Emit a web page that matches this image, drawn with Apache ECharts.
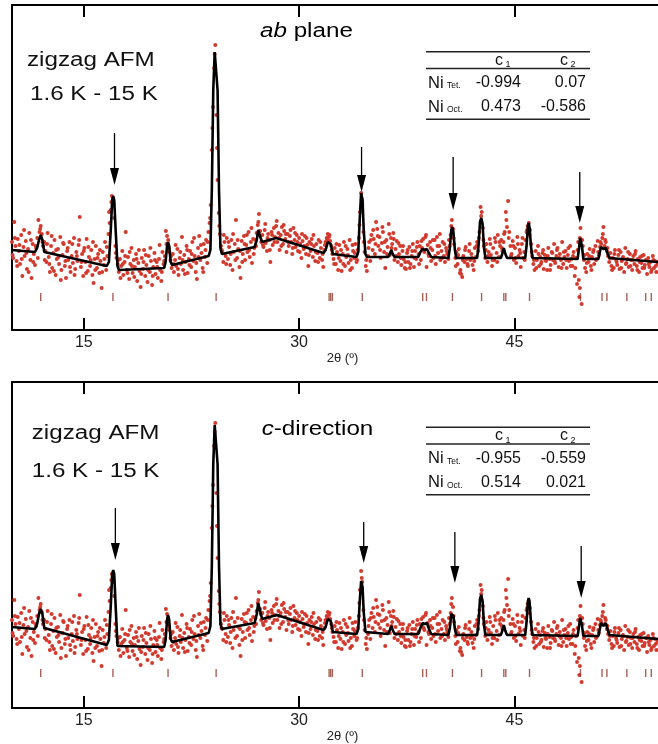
<!DOCTYPE html>
<html><head><meta charset="utf-8">
<script src="https://cdn.jsdelivr.net/npm/echarts@6/dist/echarts.min.js"></script>
<style>html,body{margin:0;padding:0;background:#fff;overflow:hidden}#c{width:658px;height:744px}</style>
</head><body><div id="c"></div>
<script>
// ---- data (2θ in degrees, intensity in arbitrary units) ----
const observed = [
[10.00,88],[10.08,72],[10.16,108],[10.24,84],[10.32,69],[10.40,91],[10.48,79],[10.56,66],[10.64,95],[10.72,54],[10.80,83],[10.88,74],[10.96,89],[11.04,61],[11.12,81],[11.20,97],[11.28,70],[11.36,52],[11.44,86],[11.52,76],[11.60,65],[11.68,82],[11.76,92],[11.84,110],[11.92,98],[12.00,104],[12.08,96],[12.16,84],[12.24,88],
[12.32,79],[12.40,68],[12.48,97],[12.56,73],[12.64,58],[12.72,84],[12.80,62],[12.88,77],[12.96,90],[13.04,55],[13.12,71],[13.20,81],[13.28,66],[13.36,93],[13.44,60],[13.52,75],[13.60,86],[13.68,64],[13.76,52],[13.84,79],[13.92,70],[14.00,88],[14.08,58],[14.16,74],[14.24,67],[14.32,92],[14.40,61],[14.48,78],[14.56,69],[14.64,85],[14.72,113],[14.80,63],[14.88,76],[14.96,54],[15.04,82],[15.12,68],[15.20,91],[15.28,59],[15.36,73],[15.44,64],[15.52,80],[15.60,55],[15.68,47],[15.76,71],[15.84,84],[15.92,62],[16.00,76],[16.08,57],[16.16,69],[16.24,42],[16.32,78],[16.40,65],[16.48,88],[16.56,60],
[16.64,74],[16.72,96],[16.80,107],[16.88,120],[16.96,134],[17.04,131],[17.12,112],[17.20,84],[17.28,72],[17.36,66],
[17.44,58],[17.52,71],[17.60,64],[17.68,79],[17.76,55],[17.84,68],[17.92,98],[18.00,60],[18.08,73],[18.16,51],[18.24,66],[18.32,82],[18.40,57],[18.48,70],[18.56,63],[18.64,76],[18.72,49],[18.80,67],[18.88,59],[18.96,43],[19.04,72],[19.12,61],[19.20,80],[19.28,54],[19.36,65],[19.44,48],[19.52,74],[19.60,58],[19.68,69],[19.76,45],[19.84,63],[19.92,77],[20.00,56],[20.08,68],[20.16,52],[20.24,71],[20.32,60],[20.40,49],[20.48,78],[20.56,66],
[20.64,74],[20.72,99],[20.80,94],[20.88,90],[20.96,78],[21.04,70],
[21.12,62],[21.20,76],[21.28,58],[21.36,70],[21.44,64],[21.52,81],[21.60,55],[21.68,72],[21.76,66],[21.84,93],[21.92,60],[22.00,75],[22.08,68],[22.16,84],[22.24,57],[22.32,71],[22.40,79],[22.48,63],[22.56,88],[22.64,69],[22.72,74],[22.80,58],[22.88,51],[22.96,82],[23.04,94],[23.12,70],[23.20,77],[23.28,62],[23.36,86],[23.44,73],[23.52,90],[23.60,67],[23.68,98],
[23.76,107],[23.84,125],[23.92,180],[24.00,223],[24.08,262],[24.16,285],[24.24,215],[24.32,150],[24.40,117],[24.48,96],[24.56,84],
[24.64,79],[24.72,68],[24.80,88],[24.88,74],[24.96,92],[25.04,71],[25.12,83],[25.20,65],[25.28,90],[25.36,60],[25.44,78],[25.52,86],[25.60,110],[25.68,72],[25.76,81],[25.84,63],[25.92,52],[26.00,89],[26.08,76],[26.16,94],[26.24,70],[26.32,85],[26.40,78],[26.48,98],[26.56,73],[26.64,88],[26.72,67],[26.80,91],[26.88,82],
[26.96,90],[27.04,97],[27.12,105],[27.20,116],[27.28,99],[27.36,88],
[27.44,95],[27.52,83],[27.60,100],[27.68,87],[27.76,79],[27.84,96],[27.92,90],[28.00,68],[28.08,98],[28.16,85],[28.24,102],[28.32,93],[28.40,104],[28.48,88],[28.56,97],[28.64,80],[28.72,95],[28.80,103],[28.88,86],[28.96,99],[29.04,91],[29.12,78],[29.20,96],[29.28,84],[29.36,94],[29.44,88],[29.52,76],[29.60,102],[29.68,90],[29.76,83],[29.84,95],[29.92,79],[30.00,92],[30.08,86],[30.16,72],[30.24,89],[30.32,81],[30.40,94],[30.48,76],[30.56,85],[30.64,64],[30.72,88],[30.80,79],[30.88,91],[30.96,73],[31.04,84],[31.12,69],[31.20,86],[31.28,77],[31.36,90],[31.44,72],[31.52,82],[31.60,70],[31.68,63],
[31.76,80],[31.84,88],[31.92,92],[32.00,96],[32.08,93],[32.16,89],[32.24,84],[32.32,76],
[32.40,71],[32.48,82],[32.56,66],[32.64,78],[32.72,60],[32.80,85],[32.88,69],[32.96,59],[33.04,76],[33.12,88],[33.20,64],[33.28,73],[33.36,81],[33.44,67],[33.52,90],[33.60,70],[33.68,62],[33.76,79],[33.84,72],[33.92,86],[34.00,68],[34.08,80],
[34.16,92],[34.24,118],[34.32,137],[34.40,126],[34.48,98],[34.56,78],[34.64,64],[34.72,59],
[34.80,74],[34.88,88],[34.96,69],[35.04,95],[35.12,80],[35.20,91],[35.28,76],[35.36,108],[35.44,101],[35.52,84],[35.60,93],[35.68,72],[35.76,87],[35.84,98],[35.92,78],[36.00,62],[36.08,90],[36.16,83],[36.24,106],[36.32,75],[36.40,92],[36.48,86],[36.56,97],[36.64,70],[36.72,81],[36.80,89],[36.88,68],[36.96,76],[37.04,84],[37.12,65],[37.20,79],[37.28,71],[37.36,62],[37.44,61],[37.52,77],[37.60,68],[37.68,83],[37.76,66],[37.84,74],[37.92,86],[38.00,63],[38.08,79],[38.16,71],[38.24,88],[38.32,76],[38.40,84],[38.48,70],[38.56,82],[38.64,91],[38.72,78],[38.80,93],[38.88,63],[38.96,85],[39.04,74],[39.12,88],[39.20,69],[39.28,80],[39.36,72],[39.44,90],[39.52,66],[39.60,93],[39.68,77],[39.76,84],[39.84,70],[39.92,79],[40.00,88],[40.08,74],[40.16,68],[40.24,82],[40.32,76],[40.40,71],[40.48,84],
[40.56,95],[40.64,110],[40.72,101],[40.80,86],[40.88,72],
[40.96,78],[41.04,66],[41.12,81],[41.20,57],[41.28,56],[41.36,53],[41.44,74],[41.52,68],[41.60,83],[41.68,71],[41.76,64],[41.84,79],[41.92,70],[42.00,76],[42.08,65],[42.16,60],[42.24,82],[42.32,73],[42.40,88],[42.48,79],
[42.56,98],[42.64,123],[42.72,118],[42.80,102],[42.88,84],
[42.96,72],[43.04,86],[43.12,68],[43.20,78],[43.28,91],[43.36,75],[43.44,64],[43.52,82],[43.60,70],[43.68,88],[43.76,77],[43.84,95],[43.92,73],[44.00,84],[44.08,90],[44.16,79],
[44.24,88],[44.32,98],[44.40,118],[44.48,103],[44.56,129],[44.64,98],[44.72,84],
[44.80,76],[44.88,89],[44.96,70],[45.04,82],[45.12,67],[45.20,93],[45.28,74],[45.36,80],[45.44,63],[45.52,86],[45.60,72],[45.68,78],[45.76,90],
[45.84,98],[45.92,104],[46.00,107],[46.08,100],[46.16,86],
[46.24,74],[46.32,66],[46.40,60],[46.48,79],[46.56,70],[46.64,84],[46.72,64],[46.80,73],[46.88,68],[46.96,77],[47.04,61],[47.12,75],[47.20,69],[47.28,60],[47.36,82],[47.44,71],[47.52,65],[47.60,78],[47.68,70],[47.76,86],[47.84,67],[47.92,74],[48.00,82],[48.08,63],[48.16,76],[48.24,70],[48.32,88],[48.40,66],[48.48,73],[48.56,79],[48.64,62],[48.72,75],[48.80,69],[48.88,84],[48.96,71],[49.04,64],[49.12,78],[49.20,54],[49.28,72],[49.36,46],
[49.44,88],[49.48,50],[49.52,33],[49.56,92],[49.60,102],[49.68,26],[49.76,84],
[49.84,70],[49.92,62],[50.00,58],[50.08,76],[50.16,68],[50.24,81],[50.32,64],[50.40,73],[50.48,78],[50.56,66],[50.64,84],[50.72,71],[50.80,89],[50.88,75],
[50.96,83],[51.04,86],[51.12,92],[51.20,103],[51.28,84],[51.36,88],[51.44,79],[51.52,74],
[51.60,68],[51.68,77],[51.76,64],[51.84,72],[51.92,62],[52.00,80],[52.08,70],[52.16,65],[52.24,75],[52.32,61],[52.40,78],[52.48,69],[52.56,73],[52.64,58],[52.72,82],[52.80,67],[52.88,71],[52.96,63],[53.04,76],[53.12,70],[53.20,60],[53.28,74],[53.36,66],[53.44,79],[53.52,64],[53.60,71],[53.68,58],[53.76,73],[53.84,67],[53.92,62],[54.00,75],[54.08,65],[54.16,70],[54.24,56],[54.32,72],[54.40,63],[54.48,68],[54.56,60],[54.64,74],[54.72,62],[54.80,69],[54.88,58],[54.96,66],[55.04,61],
[10.04,75],[10.20,92],[10.36,64],[10.52,85],[10.68,71],[10.84,100],[11.00,77],[11.16,58],[11.32,90],[11.48,68],[11.64,84],[11.80,72],[11.96,101],[12.12,88],[12.28,70],[12.44,86],[12.60,66],[12.76,94],[12.92,59],[13.08,80],[13.24,73],[13.40,50],[13.56,87],[13.72,69],[13.88,82],[14.04,63],[14.20,86],[14.36,55],[14.52,74],[14.68,90],[14.84,68],[15.00,79],[15.16,57],[15.32,83],[15.48,70],[15.64,88],[15.80,60],[15.96,72],[16.12,80],[16.28,58],[16.44,71],[16.60,83],[16.76,118],[16.92,128],[17.08,126],[17.24,77],[17.40,70],[17.56,52],[17.72,66],[17.88,74],[18.04,57],[18.20,78],[18.36,64],[18.52,53],[18.68,71],[18.84,80],[19.00,56],[19.16,68],[19.32,75],[19.48,60],[19.64,82],[19.80,54],[19.96,70],[20.12,63],[20.28,85],[20.44,58],[20.60,69],[20.76,86],[20.92,82],[21.08,74],[21.24,66],[21.40,85],[21.56,61],[21.72,78],[21.88,70],[22.04,56],[22.20,80],[22.36,65],[22.52,76],[22.68,92],[22.84,67],[23.00,73],[23.16,85],[23.32,58],[23.48,80],[23.64,88],[23.80,112],[23.96,202],[24.12,276],[24.28,182],[24.44,104],[24.60,80],[24.76,95],[24.92,66],[25.08,88],[25.24,76],[25.40,96],[25.56,70],[25.72,90],[25.88,79],[26.04,68],[26.20,86],[26.36,95],[26.52,80],[26.68,102],[26.84,76],[27.00,84],[27.16,108],[27.32,94],[27.48,85],[27.64,106],[27.80,92],[27.96,80],[28.12,95],[28.28,88],[28.44,109],[28.60,92],[28.76,84],[28.92,105],[29.08,96],[29.24,88],[29.40,100],[29.56,82],[29.72,97],[29.88,88],[30.04,78],[30.20,96],[30.36,84],[30.52,92],[30.68,75],[30.84,86],[31.00,95],[31.16,78],[31.32,68],[31.48,88],[31.64,76],[31.80,85],[31.96,90],[32.12,95],[32.28,80],[32.44,66],[32.60,86],[32.76,72],[32.92,80],[33.08,66],[33.24,84],[33.40,75],[33.56,60],[33.72,85],[33.88,77],[34.04,70],[34.20,105],[34.36,130],[34.52,88],[34.68,70],[34.84,82],[35.00,90],[35.16,100],[35.32,86],[35.48,94],[35.64,80],[35.80,103],[35.96,88],[36.12,76],[36.28,96],[36.44,82],[36.60,91],[36.76,74],[36.92,87],[37.08,72],[37.24,84],[37.40,68],[37.56,80],[37.72,62],[37.88,79],[38.04,72],[38.20,83],[38.36,66],[38.52,89],[38.68,80],[38.84,95],[39.00,76],[39.16,82],[39.32,90],[39.48,74],[39.64,84],[39.80,96],[39.96,72],[40.12,86],[40.28,79],[40.44,90],[40.60,104],[40.76,92],[40.92,64],[41.08,75],[41.24,60],[41.40,70],[41.56,80],[41.72,66],[41.88,86],[42.04,72],[42.20,69],[42.36,84],[42.52,92],[42.68,114],[42.84,90],[43.00,80],[43.16,74],[43.32,86],[43.48,70],[43.64,92],[43.80,68],[43.96,88],[44.12,82],[44.28,96],[44.44,110],[44.60,92],[44.76,74],[44.92,84],[45.08,72],[45.24,86],[45.40,77],[45.56,92],[45.72,70],[45.88,100],[46.04,95],[46.20,78],[46.36,70],[46.52,62],[46.68,76],[46.84,66],[47.00,80],[47.16,70],[47.32,74],[47.48,60],[47.64,77],[47.80,69],[47.96,80],[48.12,72],[48.28,62],[48.44,78],[48.60,70],[48.76,82],[48.92,64],[49.08,74],[49.24,62],[49.40,80],[49.56,42],[49.72,90],[49.88,75],[50.04,67],[50.20,74],[50.36,60],[50.52,80],[50.68,70],[50.84,78],[51.00,88],[51.16,96],[51.32,90],[51.48,82],[51.64,72],[51.80,60],[51.96,76],[52.12,68],[52.28,80],[52.44,62],[52.60,72],[52.76,66],[52.92,78],[53.08,64],[53.24,70],[53.40,76],[53.56,60],[53.72,68],[53.88,74],[54.04,62],[54.20,70],[54.36,66],[54.52,58],[54.68,70],[54.84,64],[55.00,68]
];

const fitAb = [
[10.0,80],[11.6,78],[11.75,82],[11.88,90],[12.0,95],[12.12,90],[12.25,78],[12.35,76],
[16.6,64],[16.75,68],[16.88,100],[16.98,130],[17.05,134],[17.12,130],[17.22,100],[17.35,64],[17.45,60],
[20.6,62],[20.7,68],[20.8,84],[20.87,88],[20.95,84],[21.05,68],[21.15,65],
[23.7,74],[23.82,80],[23.92,140],[24.02,240],[24.12,278],[24.17,280],[24.22,278],[24.32,240],[24.42,140],[24.52,82],[24.62,76],
[26.9,83],[27.05,90],[27.15,100],[27.22,101],[27.32,92],[27.42,88],
[28.4,92],[31.7,77],[31.85,80],[32.0,88],[32.1,89],[32.2,86],[32.35,76],[32.45,74],
[34.0,73],[34.12,78],[34.22,110],[34.32,137],[34.35,138],[34.42,130],[34.5,100],[34.62,76],[34.72,73],
[36.2,73],[36.32,76],[36.42,80],[36.52,76],[36.65,73],
[38.3,73],[38.45,78],[38.6,81],[38.75,80],[38.9,81],[39.05,77],[39.2,73],
[40.4,72],[40.5,82],[40.6,100],[40.67,103],[40.75,98],[40.85,80],[40.95,72],
[42.4,72],[42.5,84],[42.6,108],[42.69,112],[42.78,106],[42.88,82],[42.98,72],
[44.05,72],[44.15,76],[44.26,82],[44.37,76],[44.48,72],
[45.75,72],[45.85,85],[45.94,104],[45.99,107],[46.06,102],[46.15,84],[46.25,72],
[49.4,71],[49.5,82],[49.58,92],[49.62,93],[49.7,84],[49.8,71],
[50.85,71],[50.95,78],[51.03,83],[51.2,81],[51.37,82],[51.5,76],[51.62,72],
[55.0,68]
];

const fitC = [
[10.0,81],[11.6,79],[11.75,84],[11.88,94],[12.0,99],[12.12,94],[12.25,80],[12.35,79],
[16.6,63],[16.75,68],[16.88,102],[16.98,134],[17.05,138],[17.12,134],[17.22,102],[17.35,62],[17.45,60],
[20.6,61],[20.7,68],[20.8,88],[20.87,93],[20.95,88],[21.05,69],[21.15,66],
[23.7,75],[23.82,82],[23.92,142],[24.02,244],[24.12,283],[24.17,285],[24.22,283],[24.32,244],[24.42,142],[24.52,84],[24.62,79],
[26.9,85],[27.05,94],[27.15,105],[27.22,106],[27.32,95],[27.42,89],
[28.45,93],[31.7,78],[31.85,81],[32.0,89],[32.1,90],[32.2,87],[32.35,76],[32.45,74],
[34.0,74],[34.12,79],[34.22,106],[34.32,127],[34.35,128],[34.42,121],[34.5,96],[34.62,76],[34.72,74],
[36.2,74],[36.32,78],[36.42,82],[36.52,78],[36.65,74],
[38.3,74],[38.45,80],[38.6,85],[38.75,84],[38.9,85],[39.05,79],[39.2,74],
[40.4,73],[40.5,80],[40.6,94],[40.67,96],[40.75,92],[40.85,79],[40.95,73],
[42.4,73],[42.5,85],[42.6,109],[42.69,113],[42.78,107],[42.88,83],[42.98,73],
[44.05,73],[44.15,77],[44.26,83],[44.37,77],[44.48,73],
[45.75,73],[45.85,87],[45.94,107],[45.99,110],[46.06,105],[46.15,86],[46.25,73],
[49.4,72],[49.5,82],[49.58,90],[49.62,91],[49.7,83],[49.8,72],
[50.85,72],[50.95,79],[51.03,85],[51.2,82],[51.37,85],[51.5,78],[51.62,73],
[55.0,69]
];

const braggPositions = [12.0,17.03,20.87,24.22,32.09,32.2,32.32,34.4,38.61,38.87,40.68,42.71,44.26,44.4,46.05,49.6,51.1,51.44,52.83,54.14,54.53];
const xTickValues = [15, 30, 45];
const magneticPeaksAb = [17.14, 34.35, 40.73, 49.55];
const magneticPeaksC = [17.2, 34.5, 40.85, 49.65];
const tableHeader = ['c', 'c'];
const tableHeaderSub = ['1', '2'];
const tableRowNames = ['Tet.', 'Oct.'];
const coeffAb = [['-0.994','0.07'],['0.473','-0.586']];
const coeffC = [['-0.955','-0.559'],['0.514','0.021']];
const panelTitles = ['ab', 'c'];
const panelTitleRest = [' plane', '-direction'];

// ---- layout / style ----
const FONT = '"Liberation Sans", Arial, sans-serif';
const DOT = '#d23a2e';
const BRAGG = '#8e3b2e';
const arrowYAb = [[197,145],[183,138],[173,120],[158,107]];
const arrowYC  = [[200,148],[186,145],[176,125],[162,110]];

function xAx(grid, pos){
  return {
    type:'value', gridIndex:grid, position:pos, min:10, max:55,
    splitLine:{show:false},
    axisLine:{lineStyle:{color:'#000', width:2}},
    axisTick:{inside:true, length:12, lineStyle:{color:'#000', width:2}, customValues:xTickValues},
    axisLabel: pos==='bottom'
      ? {customValues:xTickValues, fontSize:16, margin:5, color:'#222', fontFamily:FONT}
      : {show:false},
    name: pos==='bottom' ? '2θ (º)' : '',
    nameLocation:'middle', nameGap:19,
    nameTextStyle:{fontSize:13, color:'#222', fontFamily:FONT, padding:[0,0,0,15]}
  };
}
function yAx(grid, max){
  return {type:'value', gridIndex:grid, min:0, max:max,
    axisLine:{show:true, lineStyle:{color:'#000', width:2}},
    axisTick:{show:false}, axisLabel:{show:false}, splitLine:{show:false}};
}
function arrowSeries(xi, peaks, ys){
  return {
    type:'custom', xAxisIndex:xi, yAxisIndex:xi, z:5, silent:true,
    data: peaks.map((p,i)=>[p, ys[i][0], ys[i][1]]),
    encode:{x:0, y:[1,2]},
    renderItem(params, api){
      const p0 = api.coord([api.value(0), api.value(1)]);
      const p1 = api.coord([api.value(0), api.value(2)]);
      const hl = 17, hw = 9;
      return {type:'group', children:[
        {type:'line', shape:{x1:p0[0], y1:p0[1], x2:p1[0], y2:p1[1]-hl+2}, style:{stroke:'#000', lineWidth:1.3}},
        {type:'polygon', shape:{points:[[p1[0]-hw/2,p1[1]-hl],[p1[0]+hw/2,p1[1]-hl],[p1[0],p1[1]]]}, style:{fill:'#000'}}
      ]};
    }
  };
}
function panelSeries(xi, fit, peaks, ys, braggY){
  return [
    {type:'scatter', xAxisIndex:xi, yAxisIndex:xi, data:observed, symbol:'circle', symbolSize:4,
      itemStyle:{color:DOT, opacity:1}, z:2, silent:true},
    {type:'scatter', xAxisIndex:xi, yAxisIndex:xi, data:braggPositions.map(v=>[v,braggY]), symbol:'rect',
      symbolSize:[1.4,8], itemStyle:{color:BRAGG}, z:2, silent:true},
    {type:'line', xAxisIndex:xi, yAxisIndex:xi, data:fit, showSymbol:false, symbol:'none',
      lineStyle:{color:'#000', width:2.6}, z:4, silent:true},
    arrowSeries(xi, peaks, ys)
  ];
}
function txt(x, y, text, size, opt){
  return Object.assign({type:'text', x:x, y:y, silent:true,
    style:{text:text, fontSize:size, fontFamily:FONT, fill:'#111', verticalAlign:'middle', align:'left'}}, opt||{});
}
function tableGraphics(oy, vals){
  const g = [];
  const line = (y)=>({type:'line', silent:true, shape:{x1:426,y1:y+oy,x2:590,y2:y+oy}, style:{stroke:'#222', lineWidth:1.4}});
  g.push(line(51.7), line(68.5), line(119.3));
  const hx = [495, 560];
  for (let j=0;j<2;j++){
    g.push(txt(hx[j], 60.5+oy, tableHeader[j], 16));
    g.push(txt(hx[j]+10.5, 65+oy, tableHeaderSub[j], 9));
  }
  const ry = [83, 107];
  const rx = [521, 586];
  for (let i=0;i<2;i++){
    g.push(txt(428, ry[i]+oy, 'Ni', 16.5));
    g.push(txt(447, ry[i]+3+oy, tableRowNames[i], 8.5));
    for (let j=0;j<2;j++){
      const t = txt(rx[j], ry[i]+oy, vals[i][j], 16);
      t.style.align = 'right';
      g.push(t);
    }
  }
  return g;
}
function titleText(x, y, i){
  return {type:'text', x:x, y:y, scaleX:1.21, silent:true,
    style:{text:'{i|'+panelTitles[i]+'}{n|'+panelTitleRest[i]+'}', verticalAlign:'middle', align:'left',
      rich:{i:{fontStyle:'italic', fontSize:20, fontFamily:FONT, color:'#111'},
            n:{fontSize:20, fontFamily:FONT, color:'#111'}}}};
}
const S = {scaleX:1.21};

const chart = echarts.init(document.getElementById('c'), null, {renderer:'canvas'});
chart.setOption({
  animation:false,
  backgroundColor:'#fff',
  grid:[
    {left:12, top:5, width:651, height:325},
    {left:12, top:382, width:651, height:326}
  ],
  xAxis:[xAx(0,'bottom'), xAx(1,'bottom'), xAx(0,'top'), xAx(1,'top')],
  yAxis:[yAx(0,325), yAx(1,326)],
  series:[].concat(
    panelSeries(0, fitAb, magneticPeaksAb, arrowYAb, 33),
    panelSeries(1, fitC, magneticPeaksC, arrowYC, 35)
  ),
  graphic:[].concat(
    [txt(27, 60, 'zigzag AFM', 20, S), txt(30, 94, '1.6 K - 15 K', 20, S), titleText(260, 31.5, 0)],
    [txt(31.7, 433.7, 'zigzag AFM', 20, S), txt(31.7, 471, '1.6 K - 15 K', 20, S), titleText(261.7, 429.7, 1)],
    tableGraphics(0, coeffAb),
    tableGraphics(375.5, coeffC)
  )
});
</script>
</body></html>
